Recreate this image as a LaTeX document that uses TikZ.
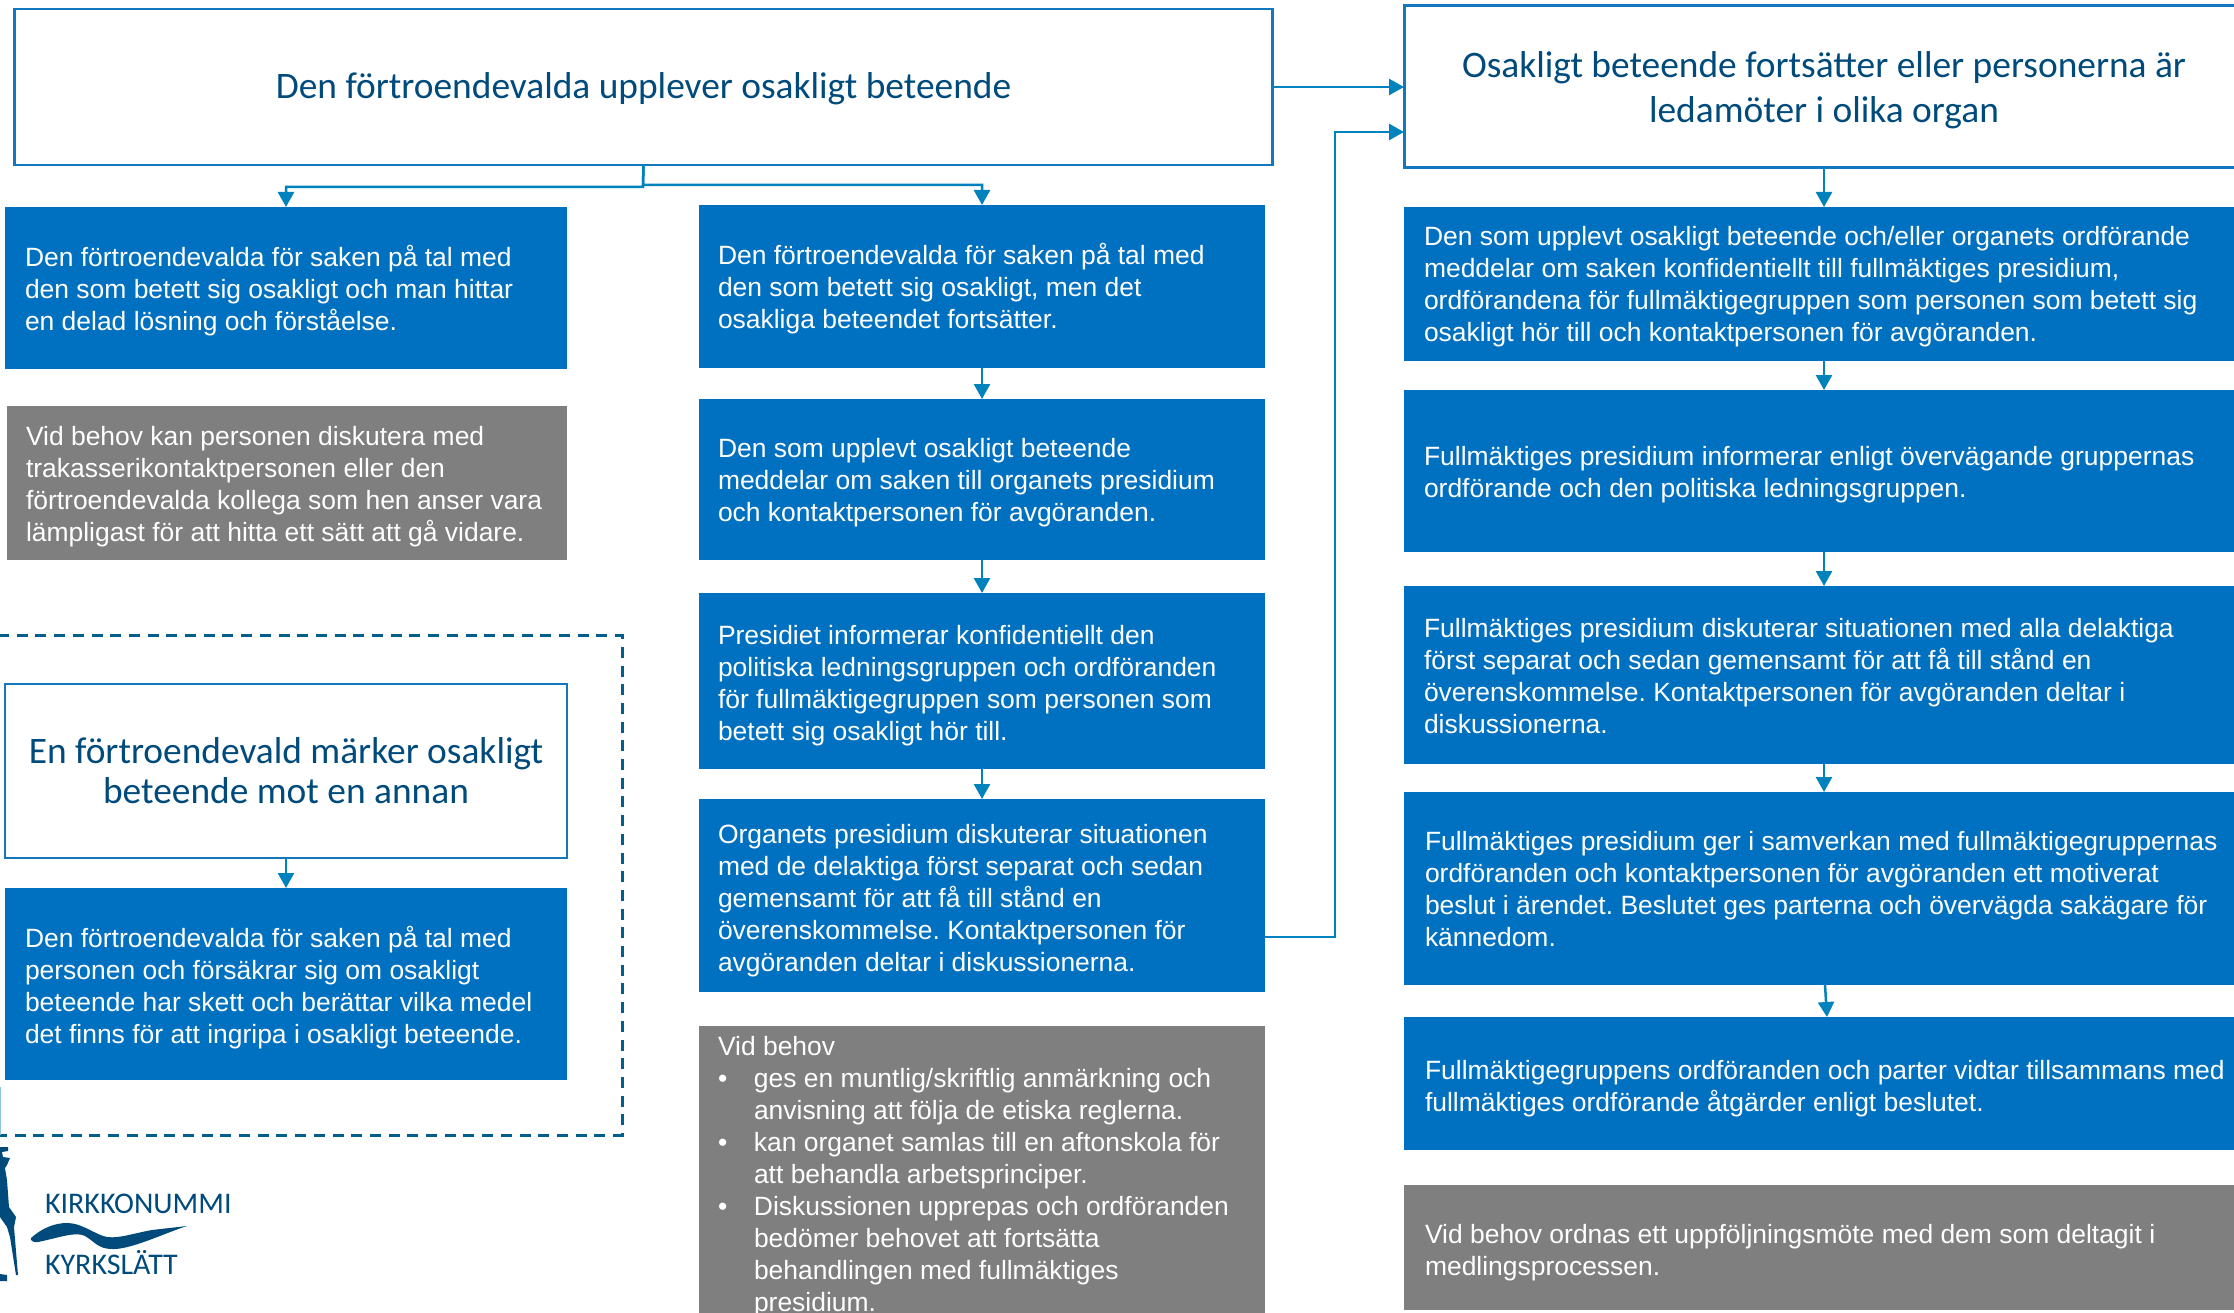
\documentclass[tikz,border=0pt]{standalone}
\usepackage{fontspec}
\setmainfont{Liberation Sans}
\newfontfamily\titlefont{Carlito}
\usetikzlibrary{arrows.meta}
\definecolor{bluebox}{HTML}{0070C0}
\definecolor{greybox}{HTML}{7F7F7F}
\definecolor{arrowblue}{HTML}{0082BC}
\definecolor{frameblue}{HTML}{1277BD}
\definecolor{dashblue}{HTML}{005F8C}
\definecolor{titleblue}{HTML}{004B7C}
\frenchspacing
\tikzset{
  x=1pt,y=-1pt,
  boxbase/.style={inner sep=0pt,outer sep=0pt},
  bluefill/.style={boxbase,fill=bluebox},
  greyfill/.style={boxbase,fill=greybox},
  bodytext/.style={inner sep=0pt,outer sep=0pt,align=left,anchor=west,font=\fontsize{26.45}{32}\selectfont,text=white},
  titlebox/.style={boxbase,draw=frameblue,fill=white},
  titletext/.style={inner sep=0pt,outer sep=0pt,align=center,text=titleblue},
  conn/.style={draw=arrowblue,line width=2.5pt,-{Triangle[length=15pt,width=16pt]}},
  logotext/.style={inner sep=0pt,outer sep=0pt,text=titleblue,font=\titlefont\fontsize{30}{30}\selectfont}
}
\newcommand{\bx}[8]{% name style x1 y1 x2 y2 inset textshift; text in \boxcontent
  \pgfmathsetmacro{\cxv}{(#3+#5)/2}\pgfmathsetmacro{\cyv}{(#4+#6)/2}%
  \pgfmathsetmacro{\wv}{#5-#3}\pgfmathsetmacro{\hv}{#6-#4}%
  \node[#2,minimum width=\wv pt,minimum height=\hv pt] (#1) at (\cxv,\cyv) {};
  \node[bodytext,xshift=#7pt,yshift=-#8pt] (#1t) at (#1.west) {\boxcontent};}
\newcommand{\bul}{\makebox[36pt][l]{•}}
\newcommand{\ind}{\hspace*{36pt}}
\begin{document}
\begin{tikzpicture}
\clip (0,0) rectangle (2234,1313);
\fill[white] (0,0) rectangle (2234,1313);
% dashed frame
\draw[dashblue,line width=3pt,dash pattern=on 11pt off 7.7pt] (-2,635) -- (622,635) -- (622,1135) -- (-2,1135);
\draw[arrowblue!45,line width=1.5pt] (0,1087) -- (0,1135);
% title boxes
\node[titlebox,line width=2.2pt,minimum width=1258pt,minimum height=156pt] (top) at (643.5,87) {};
\node[titletext,yshift=-1.5pt,font=\titlefont\fontsize{37.4}{45}\selectfont] (topt) at (top.center) {Den förtroendevalda upplever osakligt beteende};
\node[titlebox,line width=3pt,minimum width=840pt,minimum height=162pt] (rt) at (1824,87) {};
\node[titletext,yshift=-3pt,font=\titlefont\fontsize{37.4}{45}\selectfont] (rtt) at (rt.center) {Osakligt beteende fortsätter eller personerna är\\ledamöter i olika organ};
\node[titlebox,line width=2.2pt,minimum width=562pt,minimum height=174pt] (a3) at (286,771) {};
\node[titletext,font=\titlefont\fontsize{37.4}{40}\selectfont] (a3t) at (a3.center) {En förtroendevald märker osakligt\\beteende mot en annan};
% left column
\newcommand{\boxcontent}{Den förtroendevalda för saken på tal med\\den som betett sig osakligt och man hittar\\en delad lösning och förståelse.}
\bx{a1}{bluefill}{5}{207}{567}{369}{20}{2.5}
\renewcommand{\boxcontent}{Vid behov kan personen diskutera med\\trakasserikontaktpersonen eller den\\förtroendevalda kollega som hen anser vara\\lämpligast för att hitta ett sätt att gå vidare.}
\bx{a2}{greyfill}{7}{406}{567}{560}{19}{3.5}
\renewcommand{\boxcontent}{Den förtroendevalda för saken på tal med\\personen och försäkrar sig om osakligt\\beteende har skett och berättar vilka medel\\det finns för att ingripa i osakligt beteende.}
\bx{a4}{bluefill}{5}{888}{567}{1080}{20}{3.5}
% middle column
\renewcommand{\boxcontent}{Den förtroendevalda för saken på tal med\\den som betett sig osakligt, men det\\osakliga beteendet fortsätter.}
\bx{b1}{bluefill}{699}{205}{1265}{368}{19}{2.5}
\renewcommand{\boxcontent}{Den som upplevt osakligt beteende\\meddelar om saken till organets presidium\\och kontaktpersonen för avgöranden.}
\bx{b2}{bluefill}{699}{399}{1265}{560}{19}{3.5}
\renewcommand{\boxcontent}{Presidiet informerar konfidentiellt den\\politiska ledningsgruppen och ordföranden\\för fullmäktigegruppen som personen som\\betett sig osakligt hör till.}
\bx{b3}{bluefill}{699}{593}{1265}{769}{19}{4.7}
\renewcommand{\boxcontent}{Organets presidium diskuterar situationen\\med de delaktiga först separat och sedan\\gemensamt för att få till stånd en\\överenskommelse. Kontaktpersonen för\\avgöranden deltar i diskussionerna.}
\bx{b4}{bluefill}{699}{799}{1265}{992}{19}{5}
\renewcommand{\boxcontent}{Vid behov\\\bul ges en muntlig/skriftlig anmärkning och\\\ind anvisning att följa de etiska reglerna.\\\bul kan organet samlas till en aftonskola för\\\ind att behandla arbetsprinciper.\\\bul Diskussionen upprepas och ordföranden\\\ind bedömer behovet att fortsätta\\\ind behandlingen med fullmäktiges\\\ind presidium.}
\bx{b5}{greyfill}{699}{1026}{1265}{1313}{19}{7}
% right column
\renewcommand{\boxcontent}{Den som upplevt osakligt beteende och/eller organets ordförande\\meddelar om saken konfidentiellt till fullmäktiges presidium,\\ordförandena för fullmäktigegruppen som personen som betett sig\\osakligt hör till och kontaktpersonen för avgöranden.}
\bx{c1}{bluefill}{1404}{207}{2244}{361}{20}{2.5}
\renewcommand{\boxcontent}{Fullmäktiges presidium informerar enligt övervägande gruppernas\\ordförande och den politiska ledningsgruppen.}
\bx{c2}{bluefill}{1404}{390}{2244}{552}{20}{3.5}
\renewcommand{\boxcontent}{Fullmäktiges presidium diskuterar situationen med alla delaktiga\\först separat och sedan gemensamt för att få till stånd en\\överenskommelse. Kontaktpersonen för avgöranden deltar i\\diskussionerna.}
\bx{c3}{bluefill}{1404}{586}{2244}{764}{20}{1}
\renewcommand{\boxcontent}{Fullmäktiges presidium ger i samverkan med fullmäktigegruppernas\\ordföranden och kontaktpersonen för avgöranden ett motiverat\\beslut i ärendet. Beslutet ges parterna och övervägda sakägare för\\kännedom.}
\bx{c4}{bluefill}{1404}{792}{2244}{985}{21}{1}
\renewcommand{\boxcontent}{Fullmäktigegruppens ordföranden och parter vidtar tillsammans med\\fullmäktiges ordförande åtgärder enligt beslutet.}
\bx{c5}{bluefill}{1404}{1017}{2244}{1150}{21}{4.7}
\renewcommand{\boxcontent}{Vid behov ordnas ett uppföljningsmöte med dem som deltagit i\\medlingsprocessen.}
\bx{c6}{greyfill}{1404}{1185}{2244}{1310}{21}{4.7}
% connectors
\coordinate (spl) at (643,187);
\coordinate (spr) at (643,185);
\draw[conn] (top.south) -- (spl) -| (a1.north);
\draw[conn] (top.south) -- (spr) -| (b1.north);
\draw[conn] (top.east) -- (rt.west);
\draw[conn] (a3.south) -- (a4.north);
\draw[conn] (b1.south) -- (b2.north);
\draw[conn] (b2.south) -- (b3.north);
\draw[conn] (b3.south) -- (b4.north);
\coordinate (bout) at (1265,937);
\coordinate (elbow) at (1335,535);
\coordinate (rin) at (1404,132);
\draw[conn] (bout) -| (elbow) |- (rin);
\draw[conn] (rt.south) -- (c1.north);
\draw[conn] (c1.south) -- (c2.north);
\draw[conn] (c2.south) -- (c3.north);
\draw[conn] (c3.south) -- (c4.north);
\coordinate (c4o) at (1825,985);
\coordinate (c5i) at (1827,1017);
\draw[conn] (c4o) -- (c5i);
% logo
\node[logotext,anchor=base west] (kir) at (45,1213) {KIRKKONUMMI};
\node[logotext,anchor=base west] (kyr) at (45,1274) {KYRKSLÄTT};
\fill[titleblue] (31,1238) .. controls (42,1228) and (55,1223) .. (67,1223) .. controls (80,1223) and (90,1231) .. (103,1236) .. controls (115,1240) and (130,1234) .. (152,1230) -- (187,1226) .. controls (165,1233) and (130,1250) .. (112,1249) .. controls (98,1249) and (94,1241) .. (85,1236) .. controls (76,1231) and (58,1238) .. (38,1242) .. controls (33,1243) and (30,1240) .. (31,1238) -- cycle;
\fill[titleblue] (0,1147) -- (8,1147) -- (8,1151) -- (2,1152) -- (3,1157) -- (10,1158) -- (7,1165) -- (5,1168) -- (7,1180) -- (9,1207) -- (16,1217) -- (14,1227) -- (18,1275) -- (16,1275) -- (10,1237) -- (7,1227) -- (0,1217) -- cycle;
\fill[titleblue] (0,1274) -- (7,1275) -- (7,1281) -- (0,1281) -- cycle;
\end{tikzpicture}
\end{document}
